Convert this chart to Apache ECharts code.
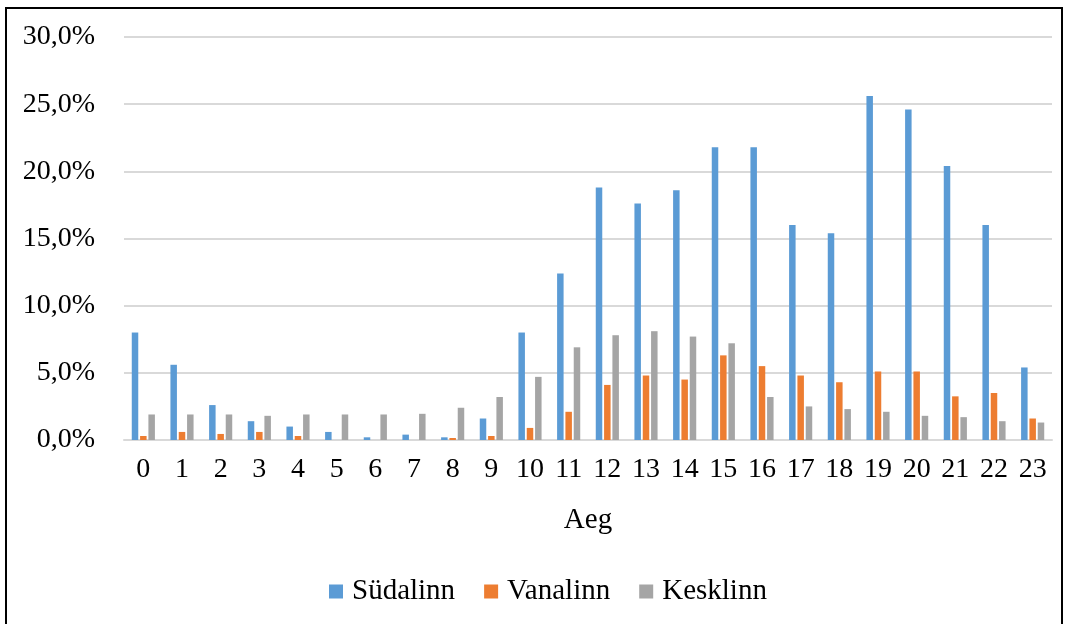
<!DOCTYPE html>
<html>
<head>
<meta charset="utf-8">
<script src="https://cdn.jsdelivr.net/npm/echarts@6/dist/echarts.min.js"></script>
<style>
  html, body { margin: 0; padding: 0; background: #fff; }
  #chart { width: 1067px; height: 624px; }
</style>
</head>
<body>
<div id="chart"></div>
<script>
// Share of trips by hour of day, per district (%)
const hours = ['0','1','2','3','4','5','6','7','8','9','10','11','12','13','14','15','16','17','18','19','20','21','22','23'];
const sudalinn = [8.0, 5.6, 2.6, 1.4, 1.0, 0.6, 0.2, 0.4, 0.2, 1.6, 8.0, 12.4, 18.8, 17.6, 18.6, 21.8, 21.8, 16.0, 15.4, 25.6, 24.6, 20.4, 16.0, 5.4];
const vanalinn = [0.3, 0.6, 0.45, 0.6, 0.3, 0.0, 0.0, 0.0, 0.15, 0.3, 0.9, 2.1, 4.1, 4.8, 4.5, 6.3, 5.5, 4.8, 4.3, 5.1, 5.1, 3.25, 3.5, 1.6];
const kesklinn = [1.9, 1.9, 1.9, 1.8, 1.9, 1.9, 1.9, 1.95, 2.4, 3.2, 4.7, 6.9, 7.8, 8.1, 7.7, 7.2, 3.2, 2.5, 2.3, 2.1, 1.8, 1.7, 1.4, 1.3];

const FONT = '"Liberation Serif", "Times New Roman", serif';
const fmt = v => v.toFixed(1).replace('.', ',') + '%';

const chart = echarts.init(document.getElementById('chart'), null, { renderer: 'canvas' });

function barSeries(name, data, color) {
  return {
    name, type: 'bar', data,
    barWidth: 6.5, barGap: '28%',
    itemStyle: { color },
    emphasis: { disabled: true }
  };
}

chart.setOption({
  animation: false,
  textStyle: { fontFamily: FONT },
  graphic: [{
    type: 'rect',
    shape: { x: 6, y: 8, width: 1056, height: 620 },
    style: { fill: 'none', stroke: '#000', lineWidth: 2 },
    silent: true
  }],
  grid: { left: 124, right: 15, top: 37, bottom: 184, containLabel: false },
  xAxis: {
    type: 'category',
    data: hours,
    name: 'Aeg',
    nameLocation: 'middle',
    nameGap: 66,
    nameTextStyle: { fontFamily: FONT, fontSize: 29, color: '#000' },
    axisLine: { lineStyle: { color: '#d9d9d9', width: 2 } },
    axisTick: { show: false },
    axisLabel: { fontFamily: FONT, fontSize: 28, color: '#000', margin: 16, interval: 0 }
  },
  yAxis: {
    type: 'value',
    min: 0, max: 30, interval: 5,
    axisLine: { show: false },
    axisTick: { show: false },
    splitLine: { lineStyle: { color: '#d9d9d9', width: 2 } },
    axisLabel: { fontFamily: FONT, fontSize: 28, color: '#000', margin: 29, formatter: fmt }
  },
  legend: {
    bottom: 13,
    left: 324,
    itemWidth: 14, itemHeight: 14, itemGap: 29,
    icon: 'rect',
    textStyle: { fontFamily: FONT, fontSize: 29, color: '#000', padding: [0, 0, 0, 4] },
    data: ['Südalinn', 'Vanalinn', 'Kesklinn']
  },
  series: [
    barSeries('Südalinn', sudalinn, '#5b9bd5'),
    barSeries('Vanalinn', vanalinn, '#ed7d31'),
    barSeries('Kesklinn', kesklinn, '#a5a5a5')
  ]
});
</script>
</body>
</html>
